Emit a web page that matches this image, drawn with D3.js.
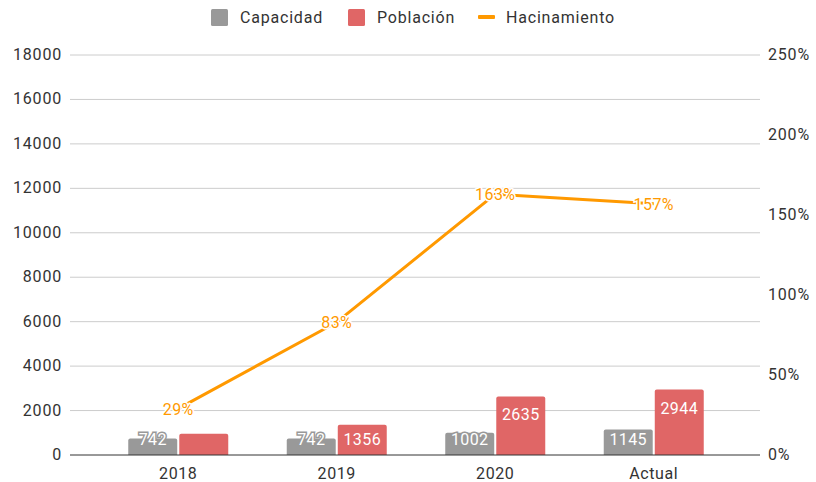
<!DOCTYPE html>
<html>
<head>
<meta charset="utf-8">
<script src="https://cdn.jsdelivr.net/npm/d3@7"></script>
<style>
  body { margin: 0; background: #fff; }
  text { font-family: Roboto, "Liberation Sans", Arial, sans-serif; }
</style>
</head>
<body>
<div class="vis-combo"></div>
<script>
const categories = ["2018", "2019", "2020", "Actual"];
const capacidad = [742, 742, 1002, 1145];
const poblacion = [957, 1356, 2635, 2944];
const hacinamiento = [29, 83, 163, 157];
const leftTicks = [0, 2000, 4000, 6000, 8000, 10000, 12000, 14000, 16000, 18000];
const rightTicks = [0, 50, 100, 150, 200, 250];
const showPobLabel = [false, true, true, true];

const config = {
    "grey": "#999999",
    "red": "#e06666",
    "orange": "#ff9900",
    "grid": "#cccccc",
    "text": "#333333"
};

const W = 816, H = 482;
const plot = { left: 70, right: 760, top: 55, bottom: 455 };

const svg = d3.select(".vis-combo")
    .append("svg")
    .attr("width", W)
    .attr("height", H);

// scales
const x = d3.scaleBand()
    .domain(categories)
    .range([99, 733]);
const xs = d3.scaleBand()
    .domain(["cap", "pob"])
    .range([0, 100])
    .paddingInner(0.04);
const y = d3.scaleLinear().domain([0, 18000]).range([plot.bottom, plot.top]);
const y2 = d3.scaleLinear().domain([0, 250]).range([plot.bottom, plot.top]);

// gridlines
svg.append("g")
    .selectAll("line")
    .data(leftTicks.slice(1))
    .enter()
    .append("line")
    .attr("x1", plot.left).attr("x2", plot.right)
    .attr("y1", d => y(d)).attr("y2", d => y(d))
    .attr("stroke", config.grid)
    .attr("stroke-width", 1);

// left axis labels
svg.append("g")
    .selectAll("text")
    .data(leftTicks)
    .enter()
    .append("text")
    .attr("x", plot.left - 8)
    .attr("y", d => y(d) + 5)
    .attr("text-anchor", "end")
    .attr("font-size", 16)
    .attr("fill", config.text)
    .style("letter-spacing", "0.8px")
    .text(d => d);

// right axis labels
svg.append("g")
    .selectAll("text")
    .data(rightTicks)
    .enter()
    .append("text")
    .attr("x", plot.right + 8)
    .attr("y", d => y2(d) + 5)
    .attr("text-anchor", "start")
    .attr("font-size", 16)
    .attr("fill", config.text)
    .style("letter-spacing", "0.8px")
    .text(d => d + "%");

// bars
const groups = svg.append("g")
    .selectAll("g")
    .data(categories)
    .enter()
    .append("g")
    .attr("transform", d => `translate(${x(d) + x.bandwidth() / 2 - 50},0)`);

function bar(sel, key, values, color) {
    sel.append("path")
        .attr("fill", color)
        .attr("d", (d, i) => {
            const x0 = xs(key), w = xs.bandwidth();
            const top = y(values[i]), bot = y(0), r = 2;
            return `M${x0},${bot}V${top + r}Q${x0},${top} ${x0 + r},${top}H${x0 + w - r}Q${x0 + w},${top} ${x0 + w},${top + r}V${bot}Z`;
        });
}
bar(groups, "cap", capacidad, config.grey);
bar(groups, "pob", poblacion, config.red);

// bar labels
function barLabel(sel, key, values, color, show) {
    sel.filter((d, i) => show[i])
        .append("text")
        .attr("x", xs(key) + xs.bandwidth() / 2)
        .attr("y", d => {
            const i = categories.indexOf(d);
            return Math.min(y(values[i]) + 24, y(0) - 10);
        })
        .attr("text-anchor", "middle")
        .attr("font-size", 16)
        .attr("fill", "#fff")
        .attr("stroke", color)
        .attr("stroke-width", 3)
        .style("paint-order", "stroke")
        .style("letter-spacing", "0.4px")
        .text(d => values[categories.indexOf(d)]);
}
barLabel(groups, "cap", capacidad, config.grey, [true, true, true, true]);
barLabel(groups, "pob", poblacion, config.red, showPobLabel);

// baseline
svg.append("line")
    .attr("x1", plot.left).attr("x2", plot.right)
    .attr("y1", y(0)).attr("y2", y(0))
    .attr("stroke", "#333")
    .attr("stroke-width", 1);

// x labels
svg.append("g")
    .selectAll("text")
    .data(categories)
    .enter()
    .append("text")
    .attr("x", d => x(d) + x.bandwidth() / 2)
    .attr("y", plot.bottom + 24)
    .attr("text-anchor", "middle")
    .attr("font-size", 16)
    .attr("fill", config.text)
    .style("letter-spacing", "0.6px")
    .text(d => d);

// line
const lineData = categories.map((c, i) => ({ c: c, v: hacinamiento[i] }));
const line = d3.line()
    .x(d => x(d.c) + x.bandwidth() / 2)
    .y(d => y2(d.v));
svg.append("path")
    .datum(lineData)
    .attr("fill", "none")
    .attr("stroke", config.orange)
    .attr("stroke-width", 3)
    .attr("stroke-linejoin", "round")
    .attr("d", line);

svg.append("g")
    .selectAll("text")
    .data(lineData)
    .enter()
    .append("text")
    .attr("x", d => x(d.c) + x.bandwidth() / 2)
    .attr("y", d => y2(d.v) + 6)
    .attr("text-anchor", "middle")
    .attr("font-size", 16)
    .attr("fill", config.orange)
    .attr("stroke", "#fff")
    .attr("stroke-width", 3)
    .style("paint-order", "stroke")
    .style("letter-spacing", "0.4px")
    .text(d => d.v + "%");

// legend
const legend = svg.append("g").attr("transform", "translate(0,0)");
const legItems = [
    { name: "Capacidad", color: config.grey, type: "rect" },
    { name: "Población", color: config.red, type: "rect" },
    { name: "Hacinamiento", color: config.orange, type: "line" }
];
const legX = [211, 348, 478];
legItems.forEach((d, i) => {
    const g = legend.append("g").attr("transform", `translate(${legX[i]},0)`);
    if (d.type === "rect") {
        g.append("rect")
            .attr("x", 0).attr("y", 9)
            .attr("width", 17).attr("height", 17)
            .attr("rx", 1.5)
            .attr("fill", d.color);
    } else {
        g.append("rect")
            .attr("x", 0).attr("y", 15)
            .attr("width", 17).attr("height", 4)
            .attr("rx", 1)
            .attr("fill", d.color);
    }
    g.append("text")
        .attr("x", d.type === "rect" ? 29 : 28)
        .attr("y", 23)
        .attr("font-size", 16)
        .attr("fill", config.text)
        .style("letter-spacing", "0.8px")
        .text(d.name);
});
</script>
</body>
</html>
